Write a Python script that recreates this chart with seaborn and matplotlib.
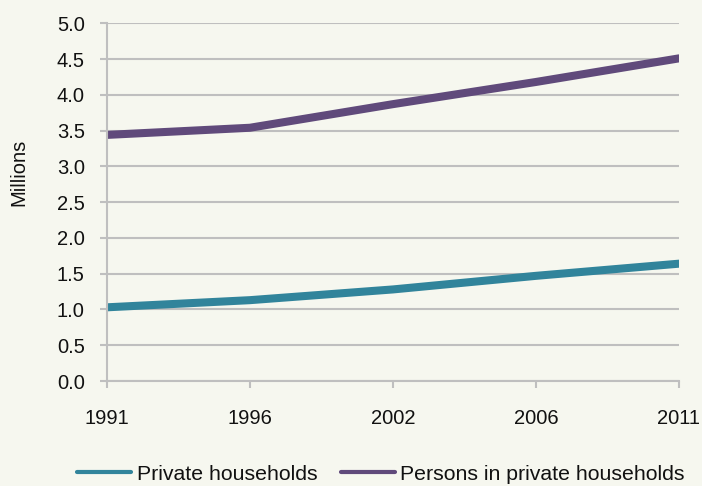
import matplotlib
matplotlib.use("Agg")
import matplotlib.pyplot as plt
import matplotlib.ticker as mticker
import pandas as pd
import seaborn as sns

# Census years and series values (millions)
years = ["1991", "1996", "2002", "2006", "2011"]
private_households = [1.03, 1.13, 1.28, 1.47, 1.64]
persons_in_households = [3.44, 3.54, 3.87, 4.18, 4.51]
series_names = ["Private households", "Persons in private households"]
y_ticks = [0.0, 0.5, 1.0, 1.5, 2.0, 2.5, 3.0, 3.5, 4.0, 4.5, 5.0]

bg = "#F6F7EF"
grid_col = "#BFBFBF"
teal = "#31849B"
purple = "#604A7B"
text_col = "#111111"
fs = 14.5

df = pd.DataFrame({
    "Year": years * 2,
    "Millions": private_households + persons_in_households,
    "Series": [series_names[0]] * len(years) + [series_names[1]] * len(years),
})

sns.set_theme(style="white")
plt.rcParams["font.family"] = ["Liberation Sans", "DejaVu Sans"]

fig = plt.figure(figsize=(7.02, 4.86), dpi=100, facecolor=bg)
ax = fig.add_axes([107 / 702, 1 - 381 / 486, (679 - 107) / 702, (381 - 23.3) / 486])
ax.set_facecolor(bg)

sns.lineplot(data=df, x="Year", y="Millions", hue="Series", hue_order=series_names,
             palette=[teal, purple], linewidth=5.8, sort=False, ax=ax, legend=True)
for ln in ax.get_lines():
    ln.set_solid_capstyle("round")

ax.set_xlim(0, len(years) - 1)
ax.set_ylim(0, 5)
ax.set_yticks(y_ticks)
ax.yaxis.set_major_formatter(mticker.FormatStrFormatter("%.1f"))

ax.grid(axis="y", color=grid_col, linewidth=1.5)
ax.grid(axis="x", visible=False)
ax.set_axisbelow(True)
for side in ["top", "right"]:
    ax.spines[side].set_visible(False)
for side in ["left", "bottom"]:
    ax.spines[side].set_color(grid_col)
    ax.spines[side].set_linewidth(1.5)

ax.tick_params(axis="y", which="both", left=True, length=5, width=1.5, color=grid_col,
               labelsize=fs, labelcolor=text_col, pad=11)
ax.tick_params(axis="x", which="both", bottom=True, length=5, width=1.5, color=grid_col,
               labelsize=fs, labelcolor=text_col, pad=15)

ax.set_xlabel("")
ax.set_ylabel("Millions", fontsize=fs, color=text_col)
ax.yaxis.set_label_coords(-0.138, 0.583)

handles, labels = ax.get_legend_handles_labels()
ax.legend_.remove()
leg = fig.legend(handles, labels, loc="center", bbox_to_anchor=(381 / 702, 1 - 474 / 486),
                 ncol=2, frameon=False, fontsize=15.3, handlelength=2.55,
                 handletextpad=0.25, columnspacing=1.1, borderpad=0.0)
for h in leg.legend_handles:
    h.set_linewidth(3)
for t in leg.get_texts():
    t.set_color(text_col)

fig.savefig("out.png", dpi=100, facecolor=bg)
